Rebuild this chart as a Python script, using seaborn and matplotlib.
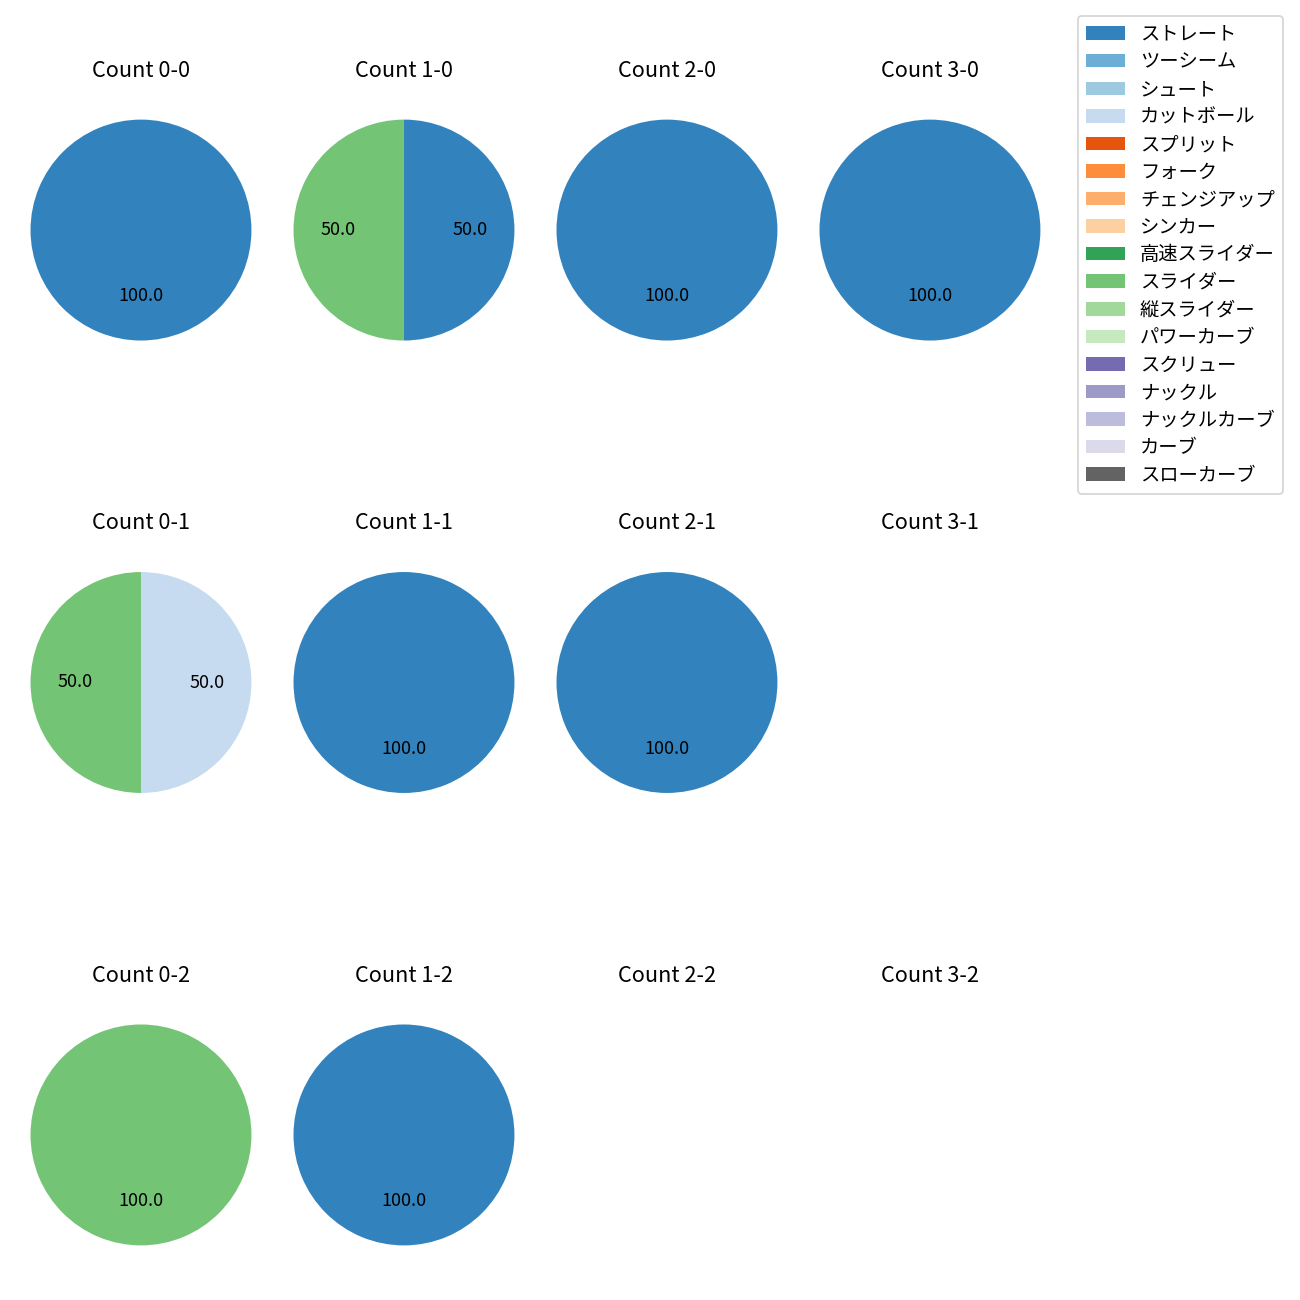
import numpy as np
import pandas as pd
import seaborn as sns
from matplotlib import pyplot as plt
from matplotlib.patches import Patch

plt.rcParams['font.family'] = ['Noto Sans CJK JP', 'DejaVu Sans']

# pitch types shown in the legend (tab20c order)
pitch_types = ['ストレート', 'ツーシーム', 'シュート', 'カットボール', 'スプリット', 'フォーク',
               'チェンジアップ', 'シンカー', '高速スライダー', 'スライダー', '縦スライダー',
               'パワーカーブ', 'スクリュー', 'ナックル', 'ナックルカーブ', 'カーブ', 'スローカーブ']

# counts (balls-strikes), row-major: rows = strikes, cols = balls
counts = ['0-0', '1-0', '2-0', '3-0',
          '0-1', '1-1', '2-1', '3-1',
          '0-2', '1-2', '2-2', '3-2']

# share (%) of each pitch per count
straight = [100, 50, 100, 100, 0, 100, 100, 0, 0, 100, 0, 0]
cutter = [0, 0, 0, 0, 50, 0, 0, 0, 0, 0, 0, 0]
slider = [0, 50, 0, 0, 50, 0, 0, 0, 100, 0, 0, 0]

df = pd.DataFrame(0.0, index=counts, columns=pitch_types)
df['ストレート'] = straight
df['カットボール'] = cutter
df['スライダー'] = slider

colors = sns.color_palette('tab20c', len(pitch_types))
color_map = dict(zip(pitch_types, colors))

fig, axes = plt.subplots(3, 4, figsize=(10, 10))
fig.subplots_adjust(left=0.0073, right=0.8165, top=0.9242, bottom=0.0258,
                    wspace=0.0, hspace=0.72)

for ax, count in zip(axes.flat, counts):
    row = df.loc[count]
    row = row[row > 0]
    if row.sum() > 0:
        ax.pie(row.values, colors=[color_map[p] for p in row.index],
               autopct='%.1f', startangle=90, counterclock=False, radius=1.05)
    else:
        ax.axis('off')
    ax.set_title(f'Count {count}', pad=12)

handles = [Patch(facecolor=color_map[p], label=p) for p in pitch_types]
fig.legend(handles=handles, loc='upper right', bbox_to_anchor=(0.994, 0.995),
           fontsize=10.7, labelspacing=0.34)

plt.savefig('out.png', dpi=130)
